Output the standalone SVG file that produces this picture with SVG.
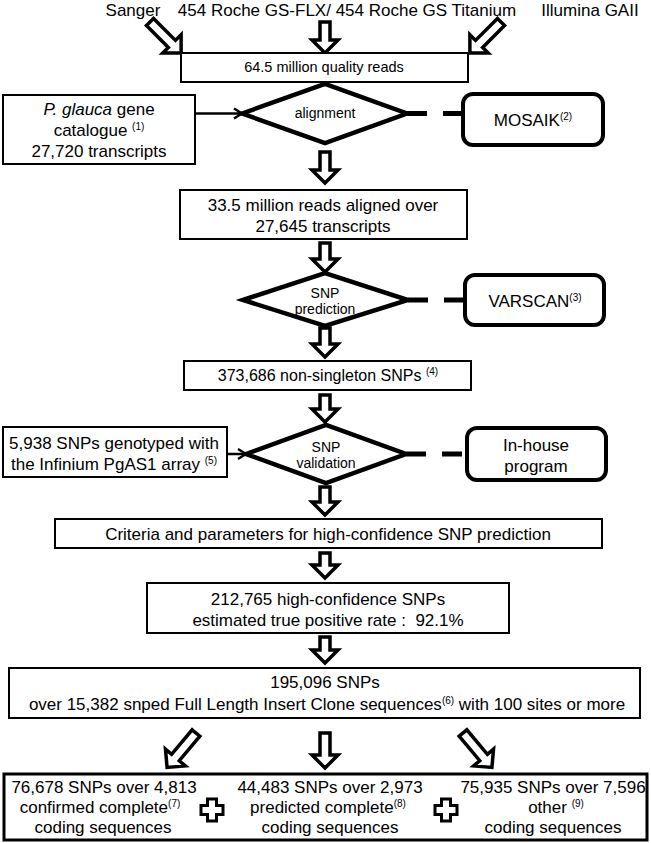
<svg xmlns="http://www.w3.org/2000/svg" width="651" height="843" viewBox="0 0 651 843">
<defs>
<marker id="chev" markerWidth="14" markerHeight="14" refX="11" refY="7" orient="auto" markerUnits="userSpaceOnUse"><path d="M3,2 L11,7 L3,12" fill="none" stroke="#000" stroke-width="2.5"/></marker>
<path id="plus" d="M-4.5,-11 H4.5 V-4.5 H11 V4.5 H4.5 V11 H-4.5 V4.5 H-11 V-4.5 H-4.5 Z"/>
</defs>
<style>
text{font-family:"Liberation Sans",Arial,sans-serif;fill:#000;text-anchor:middle;font-size:17px}
.s{font-size:14px}
.m{font-size:16px}
.r{font-size:14.5px}
.sup{font-size:10px}
.box{fill:#fff;stroke:#000;stroke-width:2}
.bbox{fill:#fff;stroke:#000;stroke-width:3}
.rbox{fill:#fff;stroke:#000;stroke-width:4}
.dia{fill:#fff;stroke:#000;stroke-width:4.5;stroke-linejoin:miter}
.barrow{fill:#fff;stroke:#000;stroke-width:3.5;stroke-linejoin:miter}
.dash{stroke:#000;stroke-width:5;stroke-dasharray:20 16;fill:none}
.line{stroke:#000;stroke-width:2.5;fill:none}
.plus{fill:#fff;stroke:#000;stroke-width:3}
</style>
<rect width="651" height="843" fill="#fff"/>

<g id="sources">
<text x="133" y="16">Sanger</text>
<text x="347" y="16">454 Roche GS-FLX/ 454 Roche GS Titanium</text>
<text x="590" y="16">Illumina GAII</text>
</g>

<g id="connectors">
<path class="barrow" transform="translate(150,22) rotate(-45)" d="M-5,0 H5 V31 H13 L0,44 L-13,31 H-5 Z"/>
<path class="barrow" transform="translate(325,22)" d="M-5,0 H5 V18 H13 L0,31 L-13,18 H-5 Z"/>
<path class="barrow" transform="translate(501,22) rotate(45)" d="M-5,0 H5 V31 H13 L0,44 L-13,31 H-5 Z"/>
<line class="line" x1="195" y1="113.5" x2="242" y2="113.5" marker-end="url(#chev)"/>
<line class="dash" x1="407" y1="113.5" x2="463" y2="113.5"/>
<path class="barrow" transform="translate(325,152)" d="M-5,0 H5 V18 H13 L0,31 L-13,18 H-5 Z"/>
<path class="barrow" transform="translate(325,243)" d="M-5,0 H5 V16 H13 L0,29 L-13,16 H-5 Z"/>
<line class="dash" x1="408" y1="300" x2="465" y2="300"/>
<path class="barrow" transform="translate(325,328)" d="M-5,0 H5 V16 H13 L0,29 L-13,16 H-5 Z"/>
<path class="barrow" transform="translate(325,395)" d="M-5,0 H5 V14 H13 L0,27 L-13,14 H-5 Z"/>
<line class="line" x1="227" y1="454" x2="246" y2="454" marker-end="url(#chev)"/>
<line class="dash" x1="406" y1="454" x2="467" y2="454"/>
<path class="barrow" transform="translate(325,487)" d="M-5,0 H5 V15 H13 L0,28 L-13,15 H-5 Z"/>
<path class="barrow" transform="translate(325,553)" d="M-5,0 H5 V12 H13 L0,25 L-13,12 H-5 Z"/>
<path class="barrow" transform="translate(325,637)" d="M-5,0 H5 V13 H13 L0,26 L-13,13 H-5 Z"/>
<path class="barrow" transform="translate(196,733) rotate(40)" d="M-5,0 H5 V32 H13 L0,45 L-13,32 H-5 Z"/>
<path class="barrow" transform="translate(325,733)" d="M-5,0 H5 V22 H13 L0,35 L-13,22 H-5 Z"/>
<path class="barrow" transform="translate(463,733) rotate(-40)" d="M-5,0 H5 V32 H13 L0,45 L-13,32 H-5 Z"/>
</g>

<g id="reads">
<rect class="box" x="181" y="53" width="287" height="29"/>
<text class="r" x="324" y="72">64.5 million quality reads</text>
</g>

<g id="catalogue">
<rect class="box" x="3" y="95" width="192" height="69"/>
<text x="99" y="115"><tspan font-style="italic">P. glauca</tspan> gene</text>
<text x="99" y="136">catalogue <tspan class="sup" dy="-6">(1)</tspan></text>
<text x="99" y="157">27,720 transcripts</text>
</g>

<g id="alignment">
<polygon class="dia" points="242,113.5 325,84 407,113.5 325,143"/>
<text class="s" x="325" y="118">alignment</text>
</g>

<g id="mosaik">
<rect class="rbox" x="463" y="94" width="140" height="51" rx="10"/>
<text x="533" y="126">MOSAIK<tspan class="sup" dy="-6">(2)</tspan></text>
</g>

<g id="aligned">
<rect class="box" x="180" y="190" width="287" height="49"/>
<text x="323" y="211">33.5 million reads aligned over</text>
<text x="323" y="232">27,645 transcripts</text>
</g>

<g id="snp-prediction">
<polygon class="dia" points="243,300 325,273 408,300 325,326"/>
<text class="s" x="325" y="298">SNP</text>
<text class="s" x="325" y="314">prediction</text>
</g>

<g id="varscan">
<rect class="rbox" x="465" y="275" width="139" height="50" rx="10"/>
<text x="535" y="307">VARSCAN<tspan class="sup" dy="-6">(3)</tspan></text>
</g>

<g id="nonsingleton">
<rect class="box" x="184" y="361" width="287" height="29"/>
<text class="m" x="328" y="381">373,686 non-singleton SNPs <tspan class="sup" dy="-6">(4)</tspan></text>
</g>

<g id="genotyped">
<rect class="box" x="3" y="427" width="224" height="50"/>
<text x="114" y="449">5,938 SNPs genotyped with</text>
<text x="114" y="470">the Infinium PgAS1 array <tspan class="sup" dy="-6">(5)</tspan></text>
</g>

<g id="snp-validation">
<polygon class="dia" points="246,454 326,425 406,454 326,483"/>
<text class="s" x="326" y="452">SNP</text>
<text class="s" x="326" y="468">validation</text>
</g>

<g id="inhouse">
<rect class="rbox" x="467" y="428" width="139" height="52" rx="10"/>
<text x="536" y="451">In-house</text>
<text x="536" y="472">program</text>
</g>

<g id="criteria">
<rect class="box" x="55" y="519" width="547" height="29"/>
<text x="328" y="540">Criteria and parameters for high-confidence SNP prediction</text>
</g>

<g id="highconf">
<rect class="box" x="147" y="583" width="362" height="50"/>
<text x="328" y="605">212,765 high-confidence SNPs</text>
<text x="328" y="626">estimated true positive rate : &#160;92.1%</text>
</g>

<g id="flic">
<rect class="box" x="9" y="668" width="631" height="50"/>
<text x="325" y="688">195,096 SNPs</text>
<text x="327" y="710">over 15,382 snped Full Length Insert Clone sequences<tspan class="sup" dy="-6">(6)</tspan><tspan dy="6"> with 100 sites or more</tspan></text>
</g>

<g id="coding">
<rect class="bbox" x="4" y="774" width="643" height="66"/>
<text x="104" y="793">76,678 SNPs over 4,813</text>
<text x="100" y="813">confirmed complete<tspan class="sup" dy="-6">(7)</tspan></text>
<text x="103" y="833">coding sequences</text>
<use href="#plus" class="plus" x="212" y="810"/>
<text x="330" y="793">44,483 SNPs over 2,973</text>
<text x="328" y="813">predicted complete<tspan class="sup" dy="-6">(8)</tspan></text>
<text x="330" y="833">coding sequences</text>
<use href="#plus" class="plus" x="446" y="810"/>
<text x="553" y="793">75,935 SNPs over 7,596</text>
<text x="556" y="813">other <tspan class="sup" dy="-6">(9)</tspan></text>
<text x="553" y="833">coding sequences</text>
</g>
</svg>
